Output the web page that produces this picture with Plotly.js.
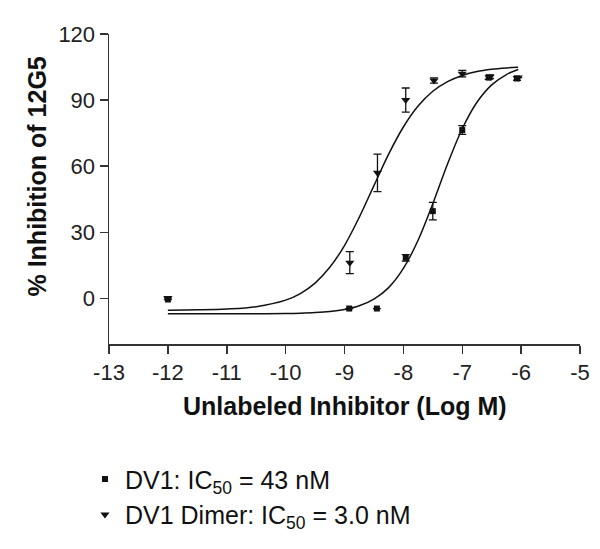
<!DOCTYPE html>
<html>
<head>
<meta charset="utf-8">
<script src="https://cdn.plot.ly/plotly-3.0.1.min.js"></script>
<style>
  html, body { margin: 0; padding: 0; background: #fff; }
  #chart { width: 600px; height: 549px; }
</style>
</head>
<body>
<div id="chart"></div>
<script>
// ---- Data ----
const seriesNames = ["DV1: IC<sub>50</sub> = 43 nM", "DV1 Dimer: IC<sub>50</sub> = 3.0 nM"];

// DV1 measured points (log M, % inhibition, SEM)
const dv1X   = [-12, -8.92, -8.45, -7.96, -7.50, -7.00, -6.55, -6.07];
const dv1Y   = [-0.5, -4.6, -4.6, 18.4, 39.6, 76.4, 100.2, 99.8];
const dv1Err = [0, 0, 0, 1.5, 4.0, 2.0, 0.8, 0.8];

// DV1 Dimer measured points
const dimX   = [-12, -8.91, -8.44, -7.96, -7.48, -7.00, -6.53, -6.05];
const dimY   = [0.2, 16.2, 57.0, 90.0, 98.9, 102.0, 100.6, 100.2];
const dimErr = [0, 5.0, 8.5, 5.5, 1.2, 1.5, 0.8, 0];

// Fitted curves
const curveX    = [-12, -11.5, -11, -10.5, -10, -9.75, -9.5, -9.25, -9, -8.75, -8.5, -8.25, -8, -7.75, -7.5, -7.25, -7, -6.75, -6.5, -6.25, -6.05];
const dv1Curve  = [-7.0, -7.0, -6.99, -6.95, -6.84, -6.7, -6.44, -5.95, -5.04, -3.37, -0.34, 4.9, 13.6, 26.4, 43.0, 61.0, 77.0, 89.0, 96.9, 101.6, 103.9];
const dimCurve  = [-5.33, -5.2, -4.82, -3.75, -0.78, 2.2, 6.95, 14.1, 24.0, 36.8, 51.2, 65.5, 77.8, 87.3, 94.0, 98.4, 101.2, 103.0, 104.0, 104.6, 104.9];

// Axis ticks
const xTicks = [-13, -12, -11, -10, -9, -8, -7, -6, -5];
const yTicks = [0, 30, 60, 90, 120];

const axisColor = "#333333";
const inkColor = "#111111";
const FONT = "Arial, 'Liberation Sans', Helvetica, sans-serif";

const traces = [
  {
    x: curveX, y: dv1Curve, type: "scatter", mode: "lines",
    line: { color: inkColor, width: 1.5, shape: "spline" },
    showlegend: false, hoverinfo: "skip"
  },
  {
    x: curveX, y: dimCurve, type: "scatter", mode: "lines",
    line: { color: inkColor, width: 1.5, shape: "spline" },
    showlegend: false, hoverinfo: "skip"
  },
  {
    x: dv1X, y: dv1Y, type: "scatter", mode: "markers", name: seriesNames[0],
    marker: { symbol: "square", size: 6, color: inkColor },
    error_y: { type: "data", array: dv1Err, visible: true, color: inkColor, thickness: 1.3, width: 4 }
  },
  {
    x: dimX, y: dimY, type: "scatter", mode: "markers", name: seriesNames[1],
    marker: { symbol: "triangle-down", size: 8, color: inkColor },
    error_y: { type: "data", array: dimErr, visible: true, color: inkColor, thickness: 1.3, width: 4 }
  }
];

const layout = {
  width: 600, height: 549,
  margin: { l: 109, r: 20, t: 34, b: 202, pad: 0 },
  paper_bgcolor: "#ffffff", plot_bgcolor: "#ffffff",
  font: { family: FONT, color: "#222222", size: 22 },
  showlegend: true,
  legend: {
    x: -0.051, xanchor: "left", y: -0.362, yanchor: "top",
    font: { family: FONT, size: 25, color: "#111111" },
    bgcolor: "rgba(0,0,0,0)", borderwidth: 0,
    traceorder: "normal", itemclick: false, itemdoubleclick: false
  },
  xaxis: {
    range: [-13, -5], tickvals: xTicks, ticktext: xTicks.map(v => String(v)),
    showgrid: false, zeroline: false, showline: true, linecolor: axisColor, linewidth: 1.5,
    ticks: "outside", ticklen: 8, tickwidth: 1.5, tickcolor: axisColor,
    tickfont: { family: FONT, size: 22, color: "#222222" }
  },
  yaxis: {
    range: [-20.7, 120], tickvals: yTicks, ticktext: yTicks.map(v => String(v)),
    showgrid: false, zeroline: false, showline: true, linecolor: axisColor, linewidth: 1.5,
    ticks: "outside", ticklen: 8, tickwidth: 1.5, tickcolor: axisColor,
    tickfont: { family: FONT, size: 22, color: "#222222" }
  },
  annotations: [
    {
      text: "<b>Unlabeled Inhibitor (Log M)</b>", xref: "paper", yref: "paper",
      x: 0.5, y: -0.201, xanchor: "center", yanchor: "middle", showarrow: false,
      font: { family: FONT, size: 25, color: "#111111" }
    },
    {
      text: "<b>% Inhibition of 12G5</b>", xref: "paper", yref: "paper",
      x: -0.153, y: 0.54, xanchor: "center", yanchor: "middle", showarrow: false,
      textangle: -90,
      font: { family: FONT, size: 25, color: "#111111" }
    }
  ]
};

Plotly.newPlot("chart", traces, layout, { staticPlot: true, displayModeBar: false });
</script>
</body>
</html>
